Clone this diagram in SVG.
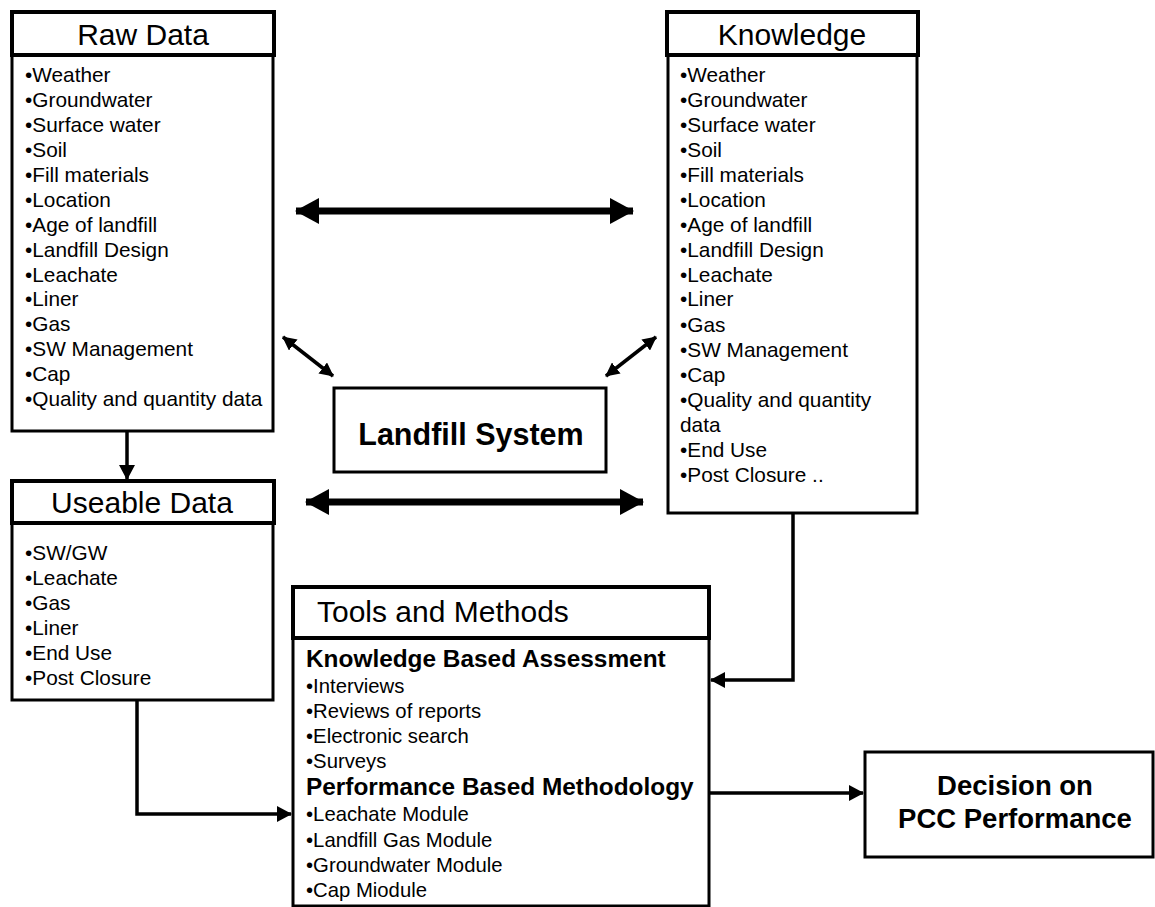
<svg xmlns="http://www.w3.org/2000/svg" width="1155" height="907" viewBox="0 0 1155 907">
  <defs>
    <style>
      .hdr { fill: #fff; stroke: #000; stroke-width: 4; }
      .body { fill: #fff; stroke: #000; stroke-width: 3; }
      .title { font-family: "Liberation Sans", Arial, sans-serif; font-size: 30px; fill: #000; }
      .item { font-family: "Liberation Sans", Arial, sans-serif; font-size: 20.8px; fill: #000; }
      .tool { font-family: "Liberation Sans", Arial, sans-serif; font-size: 20.3px; fill: #000; }
      .bold { font-family: "Liberation Sans", Arial, sans-serif; font-weight: bold; fill: #000; }
      .wire { fill: none; stroke: #000; stroke-width: 3.5; }
      .thick { fill: none; stroke: #000; stroke-width: 7; }
      .thin { fill: none; stroke: #000; stroke-width: 3.5; }
    </style>
    <marker id="headBig" markerUnits="userSpaceOnUse" markerWidth="24" markerHeight="26" refX="23" refY="13" orient="auto-start-reverse">
      <path d="M0,0 L24,13 L0,26 Z" fill="#000"/>
    </marker>
    <marker id="headSmall" markerUnits="userSpaceOnUse" markerWidth="14" markerHeight="14" refX="13" refY="7" orient="auto-start-reverse">
      <path d="M0,0 L14,7 L0,14 Z" fill="#000"/>
    </marker>
    <marker id="headMid" markerUnits="userSpaceOnUse" markerWidth="15" markerHeight="16" refX="14" refY="8" orient="auto">
      <path d="M0,0 L15,8 L0,16 Z" fill="#000"/>
    </marker>
  </defs>

  <rect width="1155" height="907" fill="#fff"/>

  <!-- connectors -->
  <g id="connectors">
    <line class="thick" x1="296" y1="211" x2="633" y2="211" marker-start="url(#headBig)" marker-end="url(#headBig)"/>
    <line class="thick" x1="306" y1="502" x2="643" y2="502" marker-start="url(#headBig)" marker-end="url(#headBig)"/>
    <line class="thin" x1="283" y1="337" x2="333" y2="376" marker-start="url(#headSmall)" marker-end="url(#headSmall)"/>
    <line class="thin" x1="656" y1="337" x2="606" y2="376" marker-start="url(#headSmall)" marker-end="url(#headSmall)"/>
    <polyline class="wire" points="127,432 127,479" marker-end="url(#headMid)"/>
    <polyline class="wire" points="137,700 137,814 291,814" marker-end="url(#headMid)"/>
    <polyline class="wire" points="793,514 793,680 711,680" marker-end="url(#headMid)"/>
    <polyline class="wire" points="710,793 863,793" marker-end="url(#headMid)"/>
  </g>

  <!-- Raw Data -->
  <g id="raw-data">
    <rect class="body" x="12" y="55" width="261" height="376"/>
    <rect class="hdr" x="12" y="12" width="262" height="43"/>
    <text class="title" x="143" y="45" text-anchor="middle">Raw Data</text>
    <text class="item" x="25" y="82">•Weather</text>
    <text class="item" x="25" y="107">•Groundwater</text>
    <text class="item" x="25" y="132">•Surface water</text>
    <text class="item" x="25" y="157">•Soil</text>
    <text class="item" x="25" y="182">•Fill materials</text>
    <text class="item" x="25" y="207">•Location</text>
    <text class="item" x="25" y="232">•Age of landfill</text>
    <text class="item" x="25" y="257">•Landfill Design</text>
    <text class="item" x="25" y="282">•Leachate</text>
    <text class="item" x="25" y="306">•Liner</text>
    <text class="item" x="25" y="331">•Gas</text>
    <text class="item" x="25" y="356">•SW Management</text>
    <text class="item" x="25" y="381">•Cap</text>
    <text class="item" x="25" y="406">•Quality and quantity data</text>
  </g>

  <!-- Knowledge -->
  <g id="knowledge">
    <rect class="body" x="668" y="55" width="249" height="458"/>
    <rect class="hdr" x="667" y="12" width="251" height="43"/>
    <text class="title" x="792" y="45" text-anchor="middle">Knowledge</text>
    <text class="item" x="680" y="82">•Weather</text>
    <text class="item" x="680" y="107">•Groundwater</text>
    <text class="item" x="680" y="132">•Surface water</text>
    <text class="item" x="680" y="157">•Soil</text>
    <text class="item" x="680" y="182">•Fill materials</text>
    <text class="item" x="680" y="207">•Location</text>
    <text class="item" x="680" y="232">•Age of landfill</text>
    <text class="item" x="680" y="257">•Landfill Design</text>
    <text class="item" x="680" y="282">•Leachate</text>
    <text class="item" x="680" y="306">•Liner</text>
    <text class="item" x="680" y="332">•Gas</text>
    <text class="item" x="680" y="357">•SW Management</text>
    <text class="item" x="680" y="382">•Cap</text>
    <text class="item" x="680" y="407">•Quality and quantity</text>
    <text class="item" x="680" y="432">data</text>
    <text class="item" x="680" y="457">•End Use</text>
    <text class="item" x="680" y="482">•Post Closure ..</text>
  </g>

  <!-- Landfill System -->
  <g id="landfill-system">
    <rect class="body" x="334" y="388" width="272" height="84"/>
    <text class="bold" x="471" y="445" font-size="30.5" text-anchor="middle">Landfill System</text>
  </g>

  <!-- Useable Data -->
  <g id="useable-data">
    <rect class="body" x="12" y="523" width="261" height="177"/>
    <rect class="hdr" x="12" y="481" width="262" height="42"/>
    <text class="title" x="142" y="513" text-anchor="middle">Useable Data</text>
    <text class="item" x="25" y="560">•SW/GW</text>
    <text class="item" x="25" y="585">•Leachate</text>
    <text class="item" x="25" y="610">•Gas</text>
    <text class="item" x="25" y="635">•Liner</text>
    <text class="item" x="25" y="660">•End Use</text>
    <text class="item" x="25" y="685">•Post Closure</text>
  </g>

  <!-- Tools and Methods -->
  <g id="tools-methods">
    <rect class="body" x="293" y="638" width="416" height="268"/>
    <rect class="hdr" x="293" y="587" width="416" height="51"/>
    <text class="title" x="317" y="622" font-size="31.5">Tools and Methods</text>
    <text class="bold" x="306" y="667" font-size="24.4">Knowledge Based Assessment</text>
    <text class="tool" x="306" y="693">•Interviews</text>
    <text class="tool" x="306" y="718">•Reviews of reports</text>
    <text class="tool" x="306" y="743">•Electronic search</text>
    <text class="tool" x="306" y="768">•Surveys</text>
    <text class="bold" x="306" y="795" font-size="24.4">Performance Based Methodology</text>
    <text class="tool" x="306" y="821">•Leachate Module</text>
    <text class="tool" x="306" y="847">•Landfill Gas Module</text>
    <text class="tool" x="306" y="872">•Groundwater Module</text>
    <text class="tool" x="306" y="897">•Cap Miodule</text>
  </g>

  <!-- Decision -->
  <g id="decision">
    <rect class="body" x="865" y="752" width="288" height="105"/>
    <text class="bold" x="1015" y="795" font-size="27.5" text-anchor="middle">Decision on</text>
    <text class="bold" x="1015" y="828" font-size="27.5" text-anchor="middle">PCC Performance</text>
  </g>
</svg>
